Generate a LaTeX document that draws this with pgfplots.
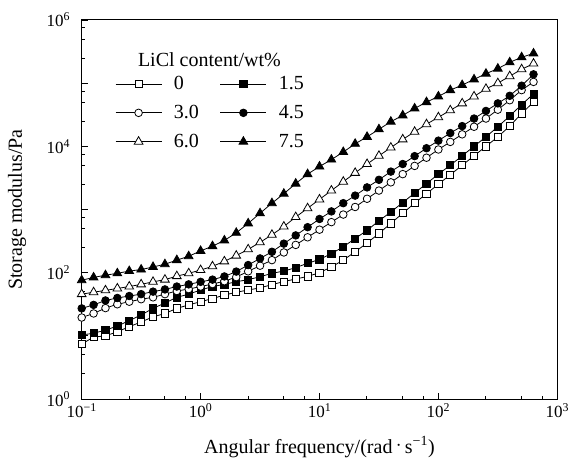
\documentclass[border=0pt]{standalone}
\usepackage{pgfplots}
\pgfplotsset{compat=1.18}
\usepackage{pgfplotstable}
\usepackage{fontspec}
\setmainfont{Liberation Serif}

\pgfplotstableread{
x s0 s15 s30 s45 s60 s75
0.1 7.41 10.3 19.5 27.2 45.7 75.9
0.1259 9.55 11.0 22.6 30.9 49.0 84.1
0.1585 10.0 12.3 27.5 36.3 52.5 91.2
0.1995 11.6 14.3 31.6 39.8 56.2 97.7
0.2512 13.96 17.4 34.7 42.7 60.3 106
0.3162 16.6 21.4 38.0 45.7 65.3 112
0.3981 19.95 27.2 40.7 50.1 71.6 123
0.5012 22.6 33.1 45.7 54.3 77.6 136
0.631 27.2 40.7 51.3 60.3 88.1 158
0.7943 30.9 45.7 55.0 65.3 97.7 182
1 34.7 53.1 60.3 71.6 110 221
1.259 38.9 60.3 66.1 77.6 126 263
1.585 44.2 65.3 73.3 87.1 151 324
1.995 49.0 71.8 85.1 104 186 427
2.512 53.1 77.6 105 132 234 603
3.162 57.5 86.1 129 168 302 871
3.981 64.6 97.7 158 214 398 1259
5.012 72.4 106 209 288 537 1778
6.31 79.4 120 275 389 759 2570
7.943 87.1 141 363 525 1047 3631
10 100 162 479 708 1445 4786
12.59 123 200 631 933 1995 6166
15.85 158 257 832 1259 2754 8128
19.95 214 347 1096 1660 3802 10965
25.12 295 468 1479 2239 5248 14125
31.62 417 661 1995 2951 7079 18621
39.81 603 912 2692 3981 9550 24547
50.12 871 1288 3631 5248 12882 30903
63.1 1259 1820 4898 6998 16982 39811
79.43 1778 2570 6607 9333 22387 50119
100 2512 3631 8913 12303 28840 61660
125.9 3548 5012 11749 16218 37154 77625
158.5 5012 7079 15488 20893 47863 93325
199.5 7079 10000 20417 27542 61660 114815
251.2 10000 14125 27542 36308 81283 141254
316.2 14125 20417 38019 47863 100000 169824
398.1 20893 30200 53703 63096 128825 213796
501.2 33113 45709 77625 91201 165959 257040
631 50119 67608 104713 138038 204174 295121
}\datatable

\begin{document}
\begin{tikzpicture}
\useasboundingbox (0,0) rectangle (573pt,461pt);
\begin{axis}[
  at={(81.7pt,62pt)}, anchor=south west,
  scale only axis, width=475.6pt, height=379pt,
  xmode=log, ymode=log,
  xmin=0.1, xmax=1000, ymin=1, ymax=1e6,
  xtick={0.1,1,10,100,1000},
  xticklabels={10\textsuperscript{−1},10\textsuperscript{0},10\textsuperscript{1},10\textsuperscript{2},10\textsuperscript{3}},
  ytick={1,10,100,1000,10000,100000,1000000},
  yticklabels={10\textsuperscript{0},,10\textsuperscript{2},,10\textsuperscript{4},,10\textsuperscript{6}},
  minor xtick={0.25,0.5,0.75,2.5,5,7.5,25,50,75,250,500,750},
  minor ytick={2.5,5,7.5,25,50,75,250,500,750,2500,5000,7500,25000,50000,75000,250000,500000,750000},
  tick align=inside, xtick pos=bottom, ytick pos=left,
  major tick length=6pt, minor tick length=3.5pt,
  axis line style={line width=1pt},
  every tick/.style={black, line width=0.8pt},
  tick label style={font=\fontsize{17}{20}\selectfont},
  yticklabel style={xshift=-8pt},
  xticklabel style={yshift=-1pt},
  label style={font=\fontsize{20}{24}\selectfont},
  xlabel={Angular frequency/(rad\,\raisebox{0.25ex}{$\cdot$}\,s\textsuperscript{−1})},
  ylabel={Storage modulus/Pa},
  xlabel style={at={(axis description cs:0.5,0)}, anchor=center, yshift=-48pt},
  ylabel style={at={(axis description cs:-0.136,0.5)}, anchor=center},
  legend columns=2,
  legend style={at={(axis description cs:0.070,0.755)}, anchor=west, draw=none, fill=none,
    font=\fontsize{20}{24}\selectfont, inner sep=0pt, row sep=10pt,
    nodes={inner sep=2pt},
    /tikz/every odd column/.append style={column sep=10pt},
    /tikz/every even column/.append style={column sep=19pt}},
  legend cell align=left,
  legend image code/.code={\draw[mark repeat=2,mark phase=2,#1] plot coordinates {(0pt,0pt) (23pt,0pt) (46pt,0pt)};},
]
\addplot[black, line width=0.8pt, mark=square*, mark size=3.6pt, mark options={fill=white, solid, line width=0.8pt}] table[x=x,y=s0]{\datatable};
\addplot[black, line width=0.8pt, mark=square*, mark size=3.6pt, mark options={fill=black, solid, line width=0.8pt}] table[x=x,y=s15]{\datatable};
\addplot[black, line width=0.8pt, mark=*, mark size=3.8pt, mark options={fill=white, solid, line width=0.8pt}] table[x=x,y=s30]{\datatable};
\addplot[black, line width=0.8pt, mark=*, mark size=3.8pt, mark options={fill=black, solid, line width=0.8pt}] table[x=x,y=s45]{\datatable};
\addplot[black, line width=0.8pt, mark=triangle*, mark size=5pt, mark options={fill=white, solid, line width=0.8pt}] table[x=x,y=s60]{\datatable};
\addplot[black, line width=0.8pt, mark=triangle*, mark size=5pt, mark options={fill=black, solid, line width=0.8pt}] table[x=x,y=s75]{\datatable};
\legend{0,1.5,3.0,4.5,6.0,7.5}
\node[anchor=west, font=\fontsize{20}{24}\selectfont, inner sep=0pt] at (axis description cs:0.118,0.894) {LiCl content/wt\%};
\end{axis}
\end{tikzpicture}
\end{document}
